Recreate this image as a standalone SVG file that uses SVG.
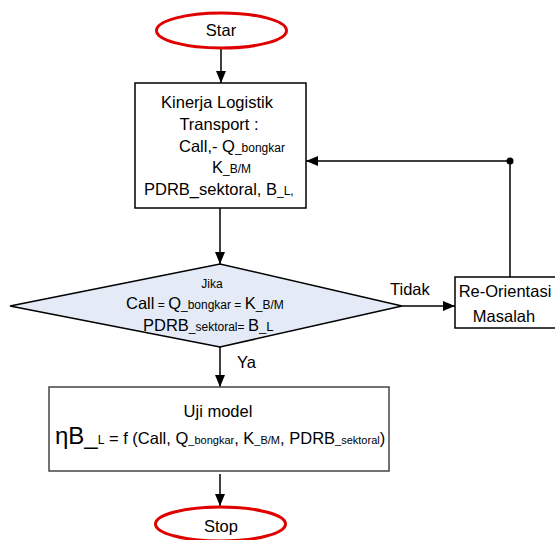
<svg xmlns="http://www.w3.org/2000/svg" width="555" height="540" viewBox="0 0 555 540">
<style>
text{font-family:"Liberation Sans",Arial,sans-serif;font-size:16.5px;fill:#000}
.s{font-size:12px}
.s2{font-size:11px}
.term{fill:#fff;stroke:#e00000;stroke-width:3}
.box{fill:#fff;stroke:#000;stroke-width:1.5}
.line{fill:none;stroke:#000;stroke-width:1.5}
</style>
<defs>
<marker id="ah" viewBox="0 0 12 10" refX="12" refY="5" markerWidth="12" markerHeight="10" markerUnits="userSpaceOnUse" orient="auto">
<path d="M0,0 L12,5 L0,10 z" fill="#000"/>
</marker>
</defs>
<g id="connectors">
<line class="line" x1="221" y1="48" x2="221" y2="83" marker-end="url(#ah)"/>
<line class="line" x1="220" y1="208" x2="220" y2="264" marker-end="url(#ah)"/>
<line class="line" x1="402" y1="306" x2="455" y2="306" marker-end="url(#ah)"/>
<polyline class="line" points="510,277 510,161 306,161" marker-end="url(#ah)"/>
<circle cx="510" cy="161" r="3.5" fill="#000"/>
<line class="line" x1="220" y1="347" x2="220" y2="387" marker-end="url(#ah)"/>
<line class="line" x1="220" y1="474" x2="220" y2="506" marker-end="url(#ah)"/>
<text x="390" y="295">Tidak</text>
<text x="237" y="368">Ya</text>
</g>
<g id="start">
<ellipse class="term" cx="221.5" cy="30.5" rx="65" ry="17.5"/>
<text x="221" y="36" text-anchor="middle">Star</text>
</g>
<g id="kinerja">
<rect class="box" x="135" y="83" width="171" height="125"/>
<text x="217" y="108" text-anchor="middle">Kinerja Logistik</text>
<text x="219" y="130" text-anchor="middle">Transport :</text>
<text x="179" y="152">Call,- Q<tspan class="s">_bongkar</tspan></text>
<text x="212" y="173">K<tspan class="s">_B/M</tspan></text>
<text x="144" y="195">PDRB_sektoral, B<tspan class="s">_L,</tspan></text>
</g>
<g id="decision">
<polygon points="10,306 220,264 402,306 220,347" fill="#e4ebf6" stroke="#000" stroke-width="1.5"/>
<text x="212" y="288" text-anchor="middle" class="s">Jika</text>
<text x="126" y="309">Call<tspan class="s"> = </tspan>Q<tspan class="s">_bongkar = </tspan>K<tspan class="s">_B/M</tspan></text>
<text x="143" y="331">PDRB<tspan class="s">_sektoral= </tspan>B<tspan font-size="13">_L</tspan></text>
</g>
<g id="reorientasi">
<rect class="box" x="455" y="277" width="102" height="51"/>
<text x="505" y="297" text-anchor="middle">Re-Orientasi</text>
<text x="504" y="322" text-anchor="middle">Masalah</text>
</g>
<g id="uji">
<rect x="49" y="387" width="340" height="84" fill="#fff" stroke="#444" stroke-width="1.5"/>
<text x="218" y="417" text-anchor="middle">Uji model</text>
<text x="55" y="444" font-size="16"><tspan font-size="24">ηB_</tspan><tspan class="s">L</tspan> = f (Call, Q<tspan class="s2">_bongkar</tspan>, K<tspan class="s2">_B/M</tspan>, PDRB<tspan class="s2">_sektoral</tspan>)</text>
</g>
<g id="stop">
<ellipse class="term" cx="220.5" cy="524" rx="65" ry="17"/>
<text x="221" y="532" text-anchor="middle">Stop</text>
</g>
</svg>
